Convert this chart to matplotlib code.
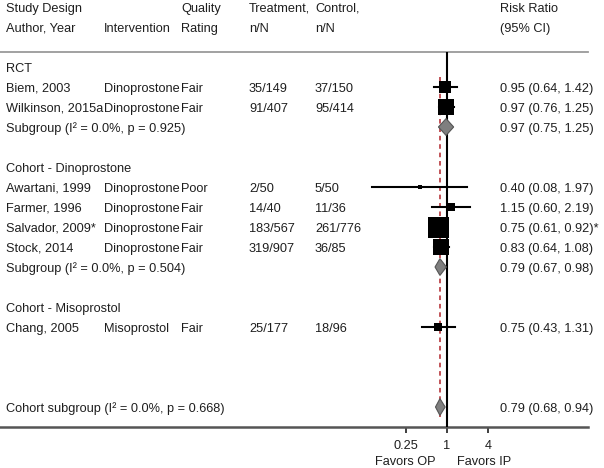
import numpy as np
import matplotlib
matplotlib.use("Agg")
import matplotlib.pyplot as plt
from matplotlib.patches import Polygon
from matplotlib.transforms import blended_transform_factory, offset_copy

plt.rcParams['font.family'] = ['Liberation Sans', 'DejaVu Sans']

# ---------------- data ----------------
group_titles = ["RCT", "Cohort - Dinoprostone", "Cohort - Misoprostol"]
group_rows = [0, 5, 12]

study_labels = ["Biem, 2003", "Wilkinson, 2015a", "Awartani, 1999", "Farmer, 1996",
                "Salvador, 2009*", "Stock, 2014", "Chang, 2005"]
study_rows = [1, 2, 6, 7, 8, 9, 13]
interventions = ["Dinoprostone", "Dinoprostone", "Dinoprostone", "Dinoprostone",
                 "Dinoprostone", "Dinoprostone", "Misoprostol"]
quality = ["Fair", "Fair", "Poor", "Fair", "Fair", "Fair", "Fair"]
treatment_nN = ["35/149", "91/407", "2/50", "14/40", "183/567", "319/907", "25/177"]
control_nN = ["37/150", "95/414", "5/50", "11/36", "261/776", "36/85", "18/96"]
rr = [0.95, 0.97, 0.40, 1.15, 0.75, 0.83, 0.75]
ci_lo = [0.64, 0.76, 0.08, 0.60, 0.61, 0.64, 0.43]
ci_hi = [1.42, 1.25, 1.97, 2.19, 0.92, 1.08, 1.31]
weights = [14, 33, 1.9, 5.7, 51, 33, 7.5]
rr_text = ["0.95 (0.64, 1.42)", "0.97 (0.76, 1.25)", "0.40 (0.08, 1.97)",
           "1.15 (0.60, 2.19)", "0.75 (0.61, 0.92)*", "0.83 (0.64, 1.08)",
           "0.75 (0.43, 1.31)"]

pooled_labels = ["Subgroup (I² = 0.0%, p = 0.925)", "Subgroup (I² = 0.0%, p = 0.504)",
                 "Cohort subgroup (I² = 0.0%, p = 0.668)"]
pooled_rows = [3, 10, 17]
pooled_rr = [0.97, 0.79, 0.79]
pooled_lo = [0.75, 0.67, 0.68]
pooled_hi = [1.25, 0.98, 0.94]
pooled_text = ["0.97 (0.75, 1.25)", "0.79 (0.67, 0.98)", "0.79 (0.68, 0.94)"]

overall_rr = 0.79
xticks = [0.25, 1, 4]
xtick_labels = ["0.25", "1", "4"]

header1 = ["Study Design", "", "Quality", "Treatment,", "Control,", "Risk Ratio"]
header2 = ["Author, Year", "Intervention", "Rating", "n/N", "n/N", "(95% CI)"]

# ---------------- layout ----------------
W, H = 604, 468
fig = plt.figure(figsize=(W / 100, H / 100), dpi=100)
top_px, bot_px = 52, 427
ax = fig.add_axes([0, (H - bot_px) / H, 1, (bot_px - top_px) / H])

px_per_doubling = 20.7
x_one_px = 447
ax.set_xscale('log', base=2)
ax.set_xlim(2 ** (-x_one_px / px_per_doubling), 2 ** ((W - x_one_px) / px_per_doubling))
ax.set_ylim(18, -0.75)
for s in ax.spines.values():
    s.set_visible(False)
ax.set_yticks([])
ax.set_xticks(xticks)
ax.set_xticklabels(xtick_labels)
ax.xaxis.set_minor_locator(matplotlib.ticker.NullLocator())

txt_color = '#1e1e1e'
fs = 9.2
ax.tick_params(axis='x', direction='out', length=4.5, width=1.2, pad=5,
               labelsize=fs, colors=txt_color)

col_px = [6, 104, 181, 249, 315, 500]
tr = blended_transform_factory(ax.transAxes, ax.transData)
BASE = 0.23  # baseline offset (in rows) below row centre

def colx(i):
    return col_px[i] / W

def put(i, r, t, **kw):
    ax.text(colx(i), r + BASE, t, transform=tr, va='baseline', ha='left', fontsize=fs,
            color=txt_color, clip_on=False, **kw)

# rules
ax.axhline(-0.75, xmin=0, xmax=588 / W, color='#9a9a9a', lw=1.3, clip_on=False)
ax.axhline(18, xmin=0, xmax=588 / W, color='#555555', lw=1.8, clip_on=False)

# headers
for i, t in enumerate(header1):
    if t:
        put(i, -3, t)
for i, t in enumerate(header2):
    put(i, -2, t)

# group titles
for t, r in zip(group_titles, group_rows):
    put(0, r, t)

# reference lines
ax.axvline(1, color='black', lw=1.5, zorder=2)
ax.plot([overall_rr, overall_rr], [0.5, 17.5], color='#b0242a', lw=1.1,
        linestyle=(0, (3, 2.5)), zorder=3)

# studies
for i in range(len(study_labels)):
    r = study_rows[i]
    put(0, r, study_labels[i])
    put(1, r, interventions[i])
    put(2, r, quality[i])
    put(3, r, treatment_nN[i])
    put(4, r, control_nN[i])
    put(5, r, rr_text[i])
    ax.plot([ci_lo[i], ci_hi[i]], [r, r], color='black', lw=1.5, zorder=4)
    side_px = 21 * np.sqrt(weights[i] / max(weights))
    ax.plot(rr[i], r, marker='s', color='black', markersize=side_px * 0.72,
            markeredgewidth=0, zorder=5)

# pooled diamonds
for i in range(len(pooled_labels)):
    r = pooled_rows[i]
    put(0, r, pooled_labels[i])
    put(5, r, pooled_text[i])
    poly = Polygon([[pooled_lo[i], r], [pooled_rr[i], r - 0.42], [pooled_hi[i], r],
                    [pooled_rr[i], r + 0.42]], closed=True, facecolor='#7f7f7f',
                   edgecolor='#555555', lw=0.8, zorder=5)
    ax.add_patch(poly)

# favors labels
trx = blended_transform_factory(ax.transData, fig.transFigure)
fav_y = (H - 465) / H
ax.text(0.25, fav_y, "Favors OP", transform=trx, ha='center', va='baseline',
        fontsize=fs, color=txt_color)
ax.text(4, fav_y, "Favors IP",
        transform=offset_copy(trx, fig=fig, x=-4, y=0, units='dots'),
        ha='center', va='baseline', fontsize=fs, color=txt_color)

fig.savefig("out.png", dpi=100, facecolor='white')
